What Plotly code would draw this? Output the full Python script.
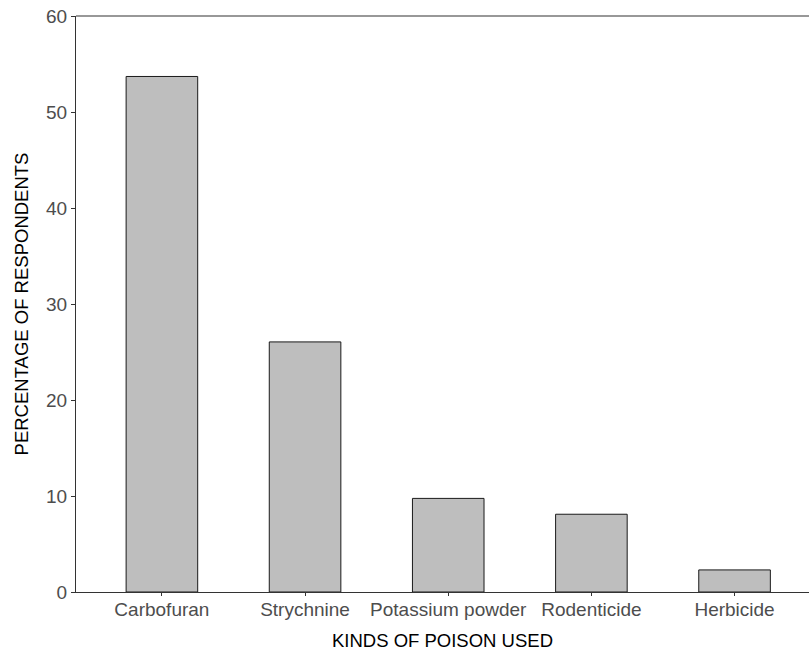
import plotly.graph_objects as go

categories = ["Carbofuran", "Strychnine", "Potassium powder", "Rodenticide", "Herbicide"]
percentages = [53.7, 26.05, 9.75, 8.1, 2.3]
y_ticks = [0, 10, 20, 30, 40, 50, 60]

fig = go.Figure(go.Bar(
    x=categories, y=percentages, width=0.5,
    marker=dict(color="#bebebe", line=dict(color="#1a1a1a", width=1)),
    hoverinfo="skip",
))

fig.update_layout(
    width=809, height=653,
    margin=dict(l=75.5, r=0, t=15.5, b=60.5),
    plot_bgcolor="white", paper_bgcolor="white",
    font=dict(family="Liberation Sans, Arial, sans-serif"),
    showlegend=False,
    shapes=[dict(type="line", xref="paper", yref="paper", x0=0, x1=1, y0=1, y1=1,
                 line=dict(color="#333333", width=1.2))],
)
fig.update_xaxes(
    range=[-0.6, 4.52], showline=True, linecolor="#333333", linewidth=1.2,
    ticks="outside", ticklen=3, tickcolor="#333333",
    tickfont=dict(size=19, color="#4d4d4d"), ticklabelstandoff=-3,
    title=dict(text="KINDS OF POISON USED", font=dict(size=18.5, color="black"), standoff=15),
    showgrid=False,
)
fig.update_yaxes(
    range=[0, 60], tickvals=y_ticks,
    showline=True, linecolor="#333333", linewidth=1.2,
    ticks="outside", ticklen=4, tickcolor="#333333",
    tickfont=dict(size=19, color="#4d4d4d"),
    title=dict(text="PERCENTAGE OF RESPONDENTS", font=dict(size=18.5, color="black"), standoff=12),
    showgrid=False, zeroline=False,
)

fig.write_html(
    "out.html",
    config={"displayModeBar": False},
    post_script="document.body.style.margin='0';document.body.style.overflow='hidden';"
                "Plotly.relayout('{plot_id}', {width: 809, height: 653});",
)
